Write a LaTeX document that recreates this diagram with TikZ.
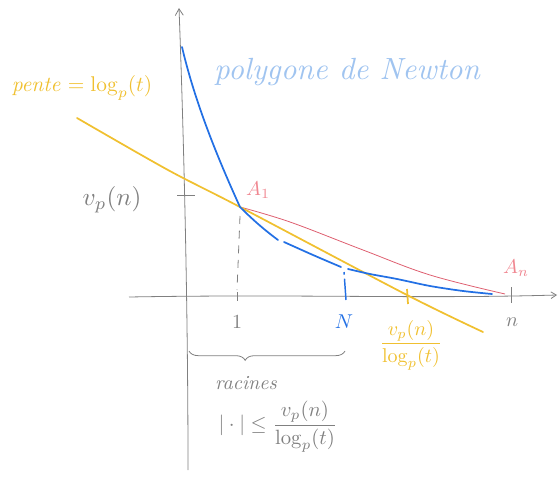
\documentclass[tikz,border=0pt]{standalone}
\usepackage{amsmath,amssymb}
\usetikzlibrary{arrows.meta,decorations.pathreplacing}
\definecolor{ycol}{RGB}{240,192,48}
\definecolor{bcol}{RGB}{35,112,228}
\definecolor{lbcol}{RGB}{160,196,240}
\definecolor{pcol}{RGB}{240,135,145}
\definecolor{rcol}{RGB}{222,95,112}
\definecolor{gcol}{RGB}{128,128,128}
\begin{document}
\begin{tikzpicture}[x=0.75pt,y=-0.75pt,
  axis/.style={draw=gcol,line width=0.6pt},
  bluecurve/.style={draw=bcol,line width=1.3pt,line cap=round},
  yellowline/.style={draw=ycol,line width=1.3pt,line cap=round},
  redline/.style={draw=rcol,line width=0.6pt},
  gtext/.style={text=gcol,inner sep=0pt},
  ytext/.style={text=ycol,inner sep=0pt},
  lbtext/.style={text=lbcol,inner sep=0pt},
  btext/.style={text=bcol,inner sep=0pt},
  ptext/.style={text=pcol,inner sep=0pt}]
\useasboundingbox (0,0) rectangle (559,477);

% axes
\coordinate (yb) at (188,470);
\coordinate (yt) at (179,8);
\coordinate (xl) at (129,297);
\coordinate (xr) at (557,295);
\draw[axis,-{Straight Barb[length=5pt,width=6pt]}] (yb) .. controls (188,260) and (181,60) .. (yt);
\draw[axis,-{Straight Barb[length=4pt,width=5pt]}] (xl) .. controls (300,294) and (420,299) .. (xr);

% ticks
\draw[axis] (177,195) -- (195,195);
\draw[axis] (237,292) -- (237,301);
\draw[axis] (511,287) -- (511,303);

% key points
\coordinate (P0) at (182,47);
\coordinate (A1) at (240,207);
\coordinate (B1) at (278,240);
\coordinate (An) at (505,294);
\coordinate (Nt) at (344,272);
\coordinate (Nb) at (346,300);

% dashed projection of A1
\draw[axis,dash pattern=on 6pt off 5pt] (240,216) -- (237,290);

% red segment A1 -> An
\draw[redline] plot[smooth,tension=0.6] coordinates {(A1) (290,222) (363,250) (430,275) (An)};

% yellow line (slope)
\draw[yellowline] plot[smooth,tension=0.5] coordinates {(77,118) (168,170) (A1) (407,295) (483,332)};
\draw[draw=ycol,line width=1.3pt] (407,289) -- (408,304);

% blue Newton polygon
\draw[bluecurve] (P0) .. controls (194,98) and (214,150) .. (A1) .. controls (255,222) and (266,231) .. (B1);
\draw[bluecurve] plot[smooth,tension=0.5] coordinates {(284,242) (313,255) (341,267)};
\draw[bluecurve] plot[smooth,tension=0.5] coordinates {(348,269) (370,274) (397,279) (430,286) (463,291) (492,294)};
\draw[draw=bcol,line width=1.1pt,dash pattern=on 2pt off 3pt on 20pt] (Nt) -- (Nb);

% brace
\draw[axis,decorate,decoration={brace,amplitude=7pt,aspect=0.36,mirror}] (189,351) -- (345,351);

% labels
\node[ytext,scale=1.6] (pente) at (82,88) {\itshape pente $=\log_p(t)$};
\node[lbtext,scale=2.3] (poly) at (347,72) {\itshape polygone de Newton};
\node[gtext,scale=1.9] (vp) at (112,200) {$v_p(n)$};
\node[ptext,scale=1.5] (A1l) at (258,190) {$A_1$};
\node[ptext,scale=1.5] (Anl) at (516,268) {$A_n$};
\node[gtext,scale=1.5] (one) at (237,322) {$1$};
\node[btext,scale=1.5] (Nl) at (344,322) {$N$};
\node[gtext,scale=1.5] (nl) at (512,322) {$n$};
\node[ytext,scale=1.5] (fr) at (411,345) {$\dfrac{v_p(n)}{\log_p(t)}$};
\node[gtext,scale=1.5] (rac) at (246,383) {\itshape racines};
\node[gtext,scale=1.55] (ineq) at (278,427) {$|\cdot|\le\dfrac{v_p(n)}{\log_p(t)}$};
\end{tikzpicture}
\end{document}
